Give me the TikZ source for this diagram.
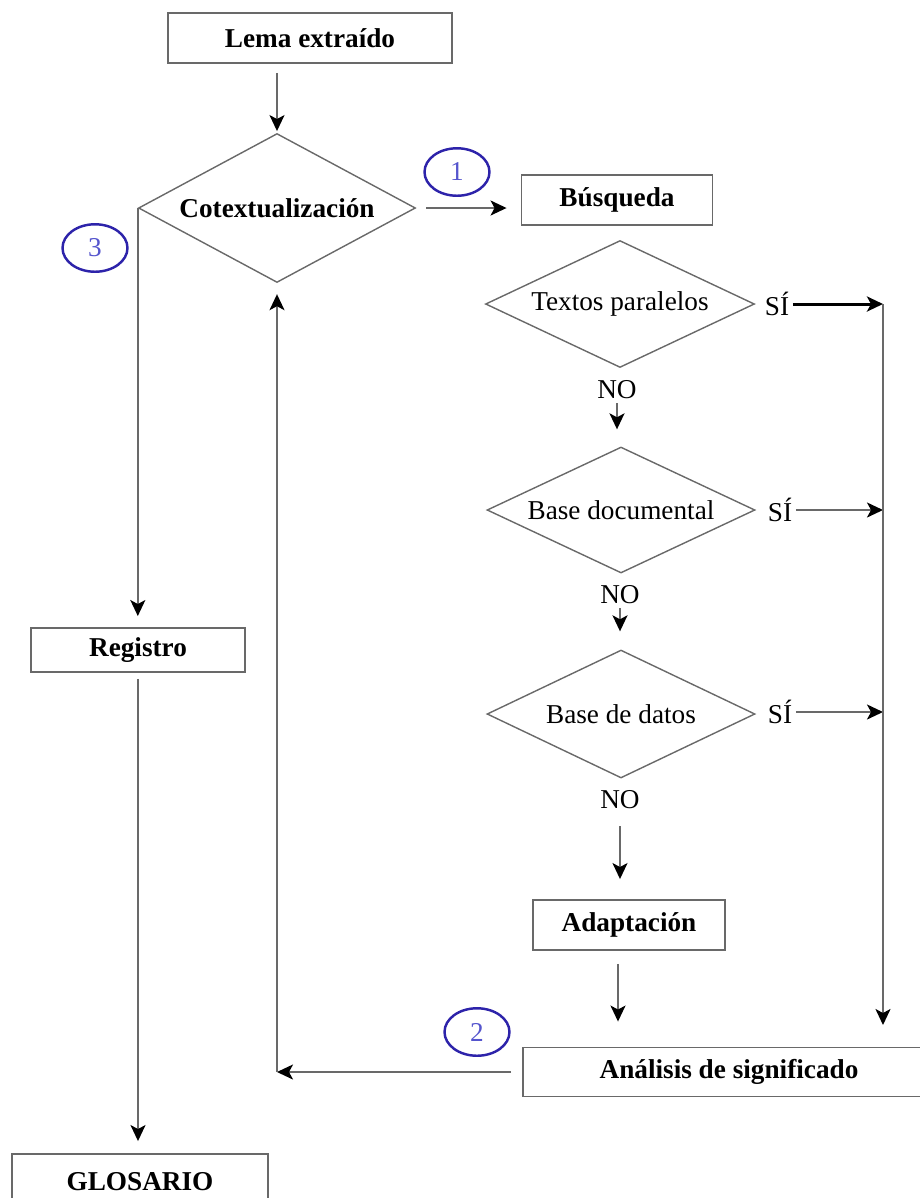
\documentclass[tikz,border=0pt]{standalone}
\usepackage{fontspec}
\setmainfont{Liberation Serif}
\usetikzlibrary{arrows.meta,positioning,shapes.geometric,calc}
\definecolor{linea}{RGB}{105,105,105}
\definecolor{azul}{RGB}{45,35,170}
\definecolor{azulnum}{RGB}{85,85,205}
\begin{document}
\begin{tikzpicture}[x=0.02cm,y=-0.02cm,>={Stealth[length=0.32cm,width=0.3cm,inset=0.08cm,color=black]},
 font=\fontsize{15.5}{18}\selectfont,
 paso/.style={draw=linea,line width=1.1pt,rectangle,minimum height=1cm,inner sep=2pt,font=\fontsize{15.5}{18}\selectfont\bfseries},
 decision/.style={draw=linea,line width=0.8pt,diamond,aspect=2.1,inner sep=0pt},
 etq/.style={inner sep=1pt},
 circulo/.style={draw=azul,line width=1.4pt,ellipse,minimum width=1.3cm,minimum height=0.95cm,inner sep=0pt,text=azulnum},
 flecha/.style={->,draw=linea,line width=1.1pt}]
\useasboundingbox (0,0) rectangle (920,1198);
% columna izquierda
\node[paso,minimum width=5.68cm] (lema) at (310,38) {Lema extraído};
\node[decision,minimum width=5.54cm,minimum height=2.98cm,font=\fontsize{15.5}{18}\selectfont\bfseries] (cot) at (277,208) {Cotextualización};
\node[paso,minimum width=4.28cm,minimum height=0.88cm] (reg) at (138,650) {Registro};
\node[paso,minimum width=5.12cm,minimum height=1.12cm] (glo) at (140,1182) {GLOSARIO};
% columna derecha
\node[paso,minimum width=3.82cm] (bus) at (617,200) {Búsqueda};
\node[decision,minimum width=5.38cm,minimum height=2.54cm] (tp) at (620,304) {Textos paralelos};
\node[decision,minimum width=5.36cm,minimum height=2.52cm] (bd) at (621,510) {Base documental};
\node[decision,minimum width=5.36cm,minimum height=2.56cm] (bdat) at (621,714) {Base de datos};
\node[paso,minimum width=3.84cm] (ada) at (629,925) {Adaptación};
\node[paso,minimum width=8.24cm,minimum height=0.98cm] (ana) at (729,1072) {Análisis de significado};
% etiquetas
\node[etq] (si1) at (777,304) {SÍ};
\node[etq] (si2) at (780,510) {SÍ};
\node[etq] (si3) at (780,712) {SÍ};
\node[etq] (no1) at (617,390) {NO};
\node[etq] (no2) at (620,595) {NO};
\node[etq] (no3) at (620,800) {NO};
\node[circulo] (c1) at (457,172) {1};
\node[circulo] (c2) at (477,1032) {2};
\node[circulo] (c3) at (95,248) {3};
\coordinate (r1) at (883,304);
\coordinate (r2) at (883,510);
\coordinate (r3) at (883,712);
\coordinate (rb) at (883,1025);
\coordinate (fb) at (277,1072);
% conectores
\draw[flecha,shorten <=5pt,shorten >=1pt] (lema.south -| cot.north) -- (cot.north);
\draw[flecha,shorten <=0.2cm,shorten >=0.28cm] (cot.east) -- (cot.east -| bus.west);
\draw[flecha,line width=1.7pt,draw=black,shorten <=1pt] (si1) -- (r1);
\draw[flecha,shorten <=1pt] (si2) -- (r2);
\draw[flecha,shorten <=1pt] (si3) -- (r3);
\draw[flecha] (r1) -- (rb);
\draw[flecha,shorten <=1pt,shorten >=0.34cm] (no1) -- (no1 |- bd.north);
\draw[flecha,shorten <=1pt,shorten >=0.36cm] (no2) -- (no2 |- bdat.north);
\draw[flecha,shorten <=0.3cm,shorten >=0.4cm] (no3) -- (no3 |- ada.north);
\draw[flecha,shorten <=0.26cm,shorten >=0.5cm] ([xshift=-0.22cm]ada.south) -- ([xshift=-0.22cm]ada.south |- ana.north);
\draw[flecha,shorten <=0.22cm] (ana.west) -- (fb);
\draw[flecha,shorten >=0.22cm] (fb) -- (cot.south);
\draw[flecha,shorten >=0.22cm] (cot.west) -- (cot.west |- reg.north);
\draw[flecha,shorten <=0.12cm,shorten >=0.24cm] (reg.south) -- (reg.south |- glo.north);
\end{tikzpicture}
\end{document}
